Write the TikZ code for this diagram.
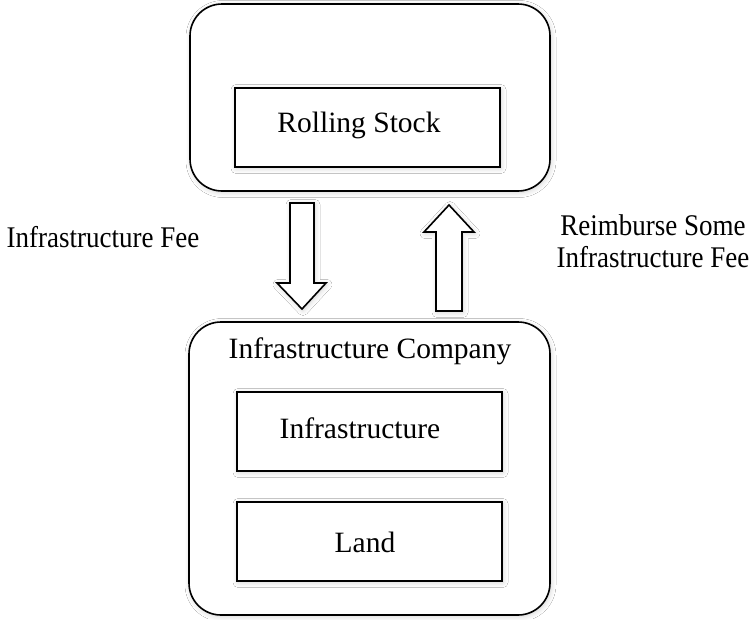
\documentclass[tikz,border=0pt]{standalone}
\usepackage{fontspec}
\setmainfont{Liberation Serif}
\newfontfamily\condfont{Liberation Serif}[FakeStretch=0.9]
\usetikzlibrary{shadows.blur}
\begin{document}
\begin{tikzpicture}[x=1pt,y=-1pt,
  boxshadow/.style={blur shadow={shadow blur steps=6, shadow xshift=1pt, shadow yshift=-1.5pt, shadow opacity=18, shadow blur radius=5pt}},
  outerbox/.style={draw=black, line width=1.6pt, rounded corners=32pt, fill=white, boxshadow, inner sep=0pt},
  innerbox/.style={draw=black, line width=1.6pt, fill=white, boxshadow, inner sep=0pt, minimum width=265pt, minimum height=79pt},
  fatarrow/.style={draw=black, line width=1.6pt, fill=white, line join=miter, boxshadow},
  lbl/.style={font=\fontsize{29.5}{34}\selectfont, inner sep=0pt, anchor=base},
  sidelbl/.style={font=\condfont\fontsize{30}{32.5}\selectfont, inner sep=0pt, anchor=base},
]
\useasboundingbox (0,0) rectangle (755,619);
\fill[white] (0,0) rectangle (755,619);

% top group
\node[outerbox, minimum width=360pt, minimum height=187pt] (rs) at (370,97.5) {};
\node[innerbox] (rsbox) at (367.5,127.5) {};
\node[lbl] (rstext) at (359,132) {Rolling Stock};

% bottom group
\node[outerbox, minimum width=361pt, minimum height=293pt] (ic) at (369.5,468.5) {};
\node[lbl] (ictext) at (370,358) {Infrastructure Company};
\node[innerbox] (infbox) at (369.5,431.5) {};
\node[lbl] (inftext) at (360,438) {Infrastructure};
\node[innerbox] (landbox) at (369.5,541.5) {};
\node[lbl] (landtext) at (365,552) {Land};

% arrows
\draw[fatarrow] (290,203) -- (314,203) -- (314,283) -- (326,283) -- (302,309) -- (277,283) -- (290,283) -- cycle;
\draw[fatarrow] (436,311) -- (462,311) -- (462,232) -- (474,232) -- (449,205) -- (424,232) -- (436,232) -- cycle;

% labels
\node[sidelbl] (fee) at (103,247) {Infrastructure Fee};
\node[sidelbl, align=center, anchor=north] (reimb) at (653,214) {Reimburse Some\\Infrastructure Fee};
\end{tikzpicture}
\end{document}
